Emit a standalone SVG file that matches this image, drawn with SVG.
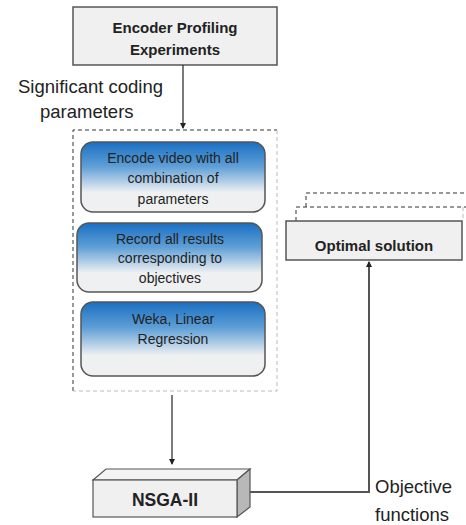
<svg xmlns="http://www.w3.org/2000/svg" width="466" height="525" viewBox="0 0 466 525">
<style>
.box{fill:#f0f0f0;stroke:#555;stroke-width:1.5}
.rbox{fill:url(#blueGrad);stroke:#555;stroke-width:1.5}
.t{font-family:"Liberation Sans",Arial,sans-serif;fill:#222;text-anchor:middle}
.b{font-weight:bold;font-size:15px}
.s{font-size:14px}
.lbl{font-family:"Liberation Sans",Arial,sans-serif;font-size:18.5px;fill:#222}
.conn{stroke:#222;stroke-width:1.2;fill:none}
.conn2{stroke:#555;stroke-width:2;fill:none}
</style>
<defs>
<linearGradient id="blueGrad" x1="0" y1="0" x2="0" y2="1">
<stop offset="0" stop-color="#1a6fc2"/>
<stop offset="0.35" stop-color="#5f9fd6"/>
<stop offset="0.72" stop-color="#eef0f2"/>
<stop offset="1" stop-color="#f0f0f0"/>
</linearGradient>
<marker id="arr" markerWidth="6" markerHeight="6" refX="5" refY="3" orient="auto" markerUnits="userSpaceOnUse">
<path d="M0,0 L6,3 L0,6 z" fill="#222"/>
</marker>
</defs>

<g id="encoder-profiling">
<rect class="box" x="73" y="7" width="204" height="58"/>
<text class="t b" x="175" y="33">Encoder Profiling</text>
<text class="t b" x="175" y="55">Experiments</text>
</g>

<g id="process-group">
<path d="M73,391 V130 H277" fill="none" stroke="#333" stroke-width="1" stroke-dasharray="4,3"/>
<path d="M277,130 V391 H73" fill="none" stroke="#bbb" stroke-width="1" stroke-dasharray="4,3"/>
</g>

<g id="encode-video">
<rect class="rbox" x="81" y="142" width="184" height="70" rx="12"/>
<text class="t s" x="173" y="163">Encode video with all</text>
<text class="t s" x="173" y="183">combination of</text>
<text class="t s" x="173" y="204">parameters</text>
</g>

<g id="record-results">
<rect class="rbox" x="77" y="223" width="185" height="69" rx="12"/>
<text class="t s" x="170" y="244">Record all results</text>
<text class="t s" x="170" y="263">corresponding to</text>
<text class="t s" x="170" y="283">objectives</text>
</g>

<g id="weka">
<rect class="rbox" x="81" y="302" width="184" height="74" rx="12"/>
<text class="t s" x="173" y="324">Weka, Linear</text>
<text class="t s" x="173" y="344">Regression</text>
</g>

<g id="optimal-solution">
<path d="M296,221 V207 H466" fill="none" stroke="#333" stroke-width="1" stroke-dasharray="4,3"/>
<path d="M306,207 V193 H466" fill="none" stroke="#333" stroke-width="1" stroke-dasharray="4,3"/>
<path d="M463,207 V221" fill="none" stroke="#bbb" stroke-width="1" stroke-dasharray="4,3"/>
<rect class="box" x="286" y="221" width="176" height="39"/>
<text class="t b" x="374" y="251" font-size="16">Optimal solution</text>
</g>

<g id="nsga-ii">
<polygon points="93,480 106,469 250,469 237,480" fill="#f4f4f4" stroke="#555" stroke-width="1.2"/>
<polygon points="237,480 250,469 250,507 237,517" fill="#b8b8b8" stroke="#555" stroke-width="1.2"/>
<rect x="93" y="480" width="144" height="37" fill="#f0f0f0" stroke="#555" stroke-width="1.2"/>
<text class="t" x="165" y="506" font-weight="bold" font-size="17.5">NSGA-II</text>
</g>

<g id="connectors">
<line class="conn" x1="183" y1="65" x2="183" y2="128" marker-end="url(#arr)"/>
<line class="conn" x1="172" y1="395" x2="172" y2="464" marker-end="url(#arr)"/>
<path class="conn2" d="M250,492 H369 V262" marker-end="url(#arr)"/>
</g>

<g id="labels">
<text class="lbl" x="18" y="93">Significant coding</text>
<text class="lbl" x="40" y="118">parameters</text>
<text class="lbl" x="375" y="493">Objective</text>
<text class="lbl" x="375" y="521">functions</text>
</g>
</svg>
